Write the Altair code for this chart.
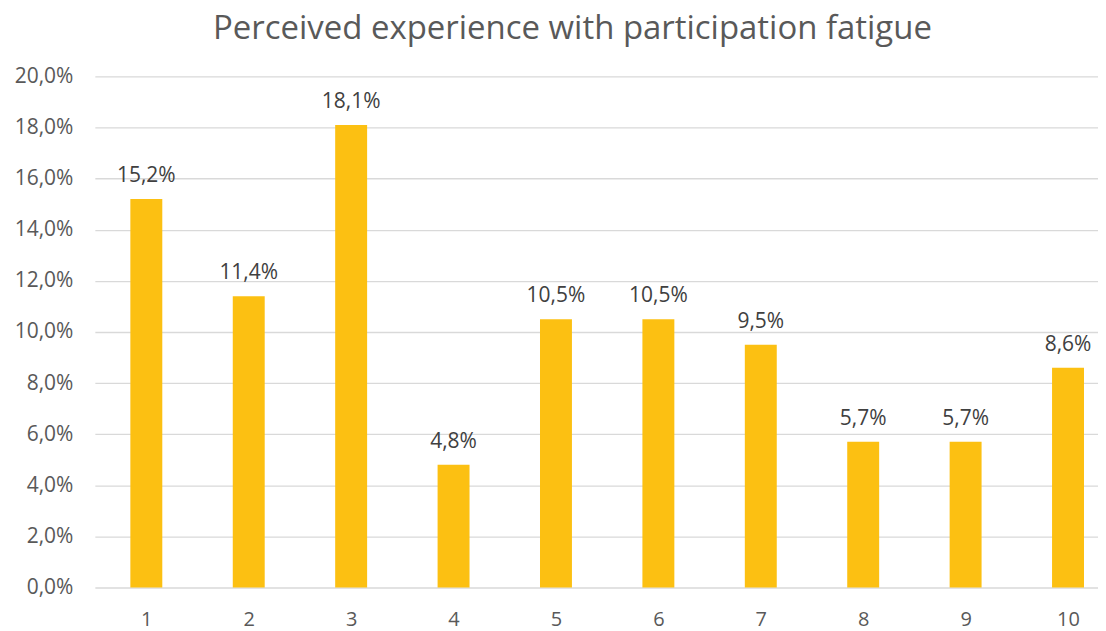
import altair as alt
import pandas as pd

categories = [1, 2, 3, 4, 5, 6, 7, 8, 9, 10]
values = [15.2, 11.4, 18.1, 4.8, 10.5, 10.5, 9.5, 5.7, 5.7, 8.6]
y_ticks = [0, 2, 4, 6, 8, 10, 12, 14, 16, 18, 20]
title_text = "Perceived experience with participation fatigue"

df = pd.DataFrame({"cat": categories, "val": values})

FONT = "Open Sans"
BAR = "#FCC012"

x = alt.X("cat:Q", scale=alt.Scale(domain=[0.546, 10.244], nice=False, zero=False),
          axis=alt.Axis(values=categories, format="d", grid=False, domain=False, ticks=False,
                        labelFont=FONT, labelFontSize=20, labelColor="#595959",
                        labelPadding=22, title=None))
y = alt.Y("val:Q", scale=alt.Scale(domain=[0, 20], nice=False),
          axis=alt.Axis(values=y_ticks, domain=False, ticks=False, gridColor="#D9D9D9",
                        gridWidth=1.3, labelFont=FONT, labelFontSize=21, labelColor="#595959",
                        labelPadding=22, title=None,
                        labelExpr="replace(format(datum.value, '.1f'), '.', ',') + '%'"))

base = alt.Chart(df)
bars = base.mark_bar(size=32, color=BAR).encode(x=x, y=y, y2=alt.datum(0))
labels = base.transform_calculate(
    lab="replace(format(datum.val, '.1f'), '.', ',') + '%'"
).mark_text(font=FONT, fontSize=21, color="#404040", dy=-17, baseline="alphabetic").encode(
    x=x, y=y, text="lab:N")

chart = (bars + labels).properties(
    width=1005, height=512,
    title=alt.Title(title_text, font=FONT, fontSize=33, fontWeight="normal", color="#595959",
                    anchor="middle", dx=-24, offset=20),
    autosize=alt.AutoSizeParams(type="none"),
    padding={"left": 87, "top": 68, "right": 0, "bottom": 45},
).configure_view(stroke=None)

chart.save("out.html", embed_options={"renderer": "svg", "actions": False})
